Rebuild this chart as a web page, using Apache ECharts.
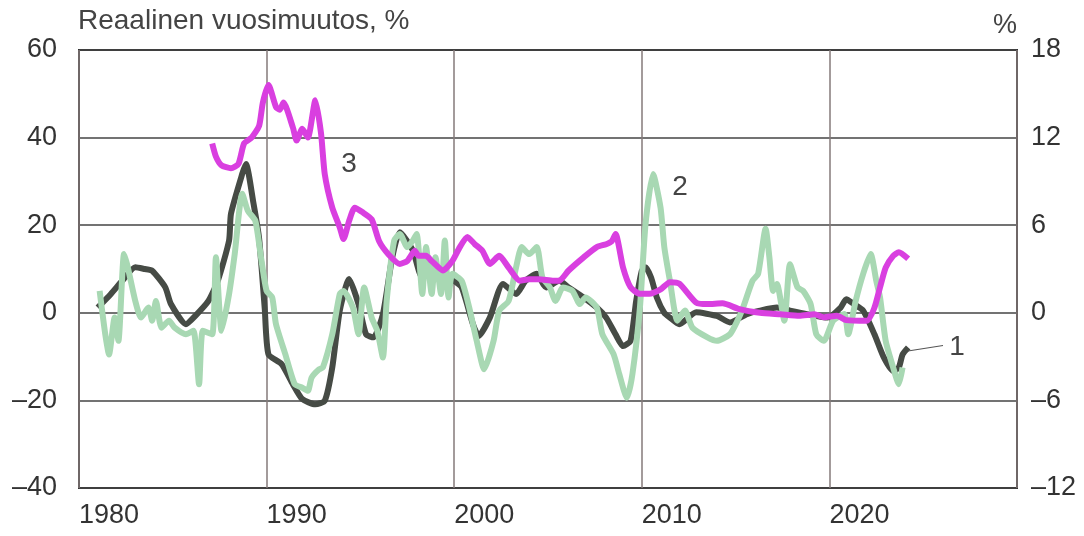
<!DOCTYPE html>
<html>
<head>
<meta charset="utf-8">
<script src="https://cdn.jsdelivr.net/npm/echarts@6/dist/echarts.min.js"></script>
<style>
html,body{margin:0;padding:0;background:#fff;}
#chart{width:1084px;height:536px;}
</style>
</head>
<body>
<div id="chart"></div>
<script>
// ---- Data ----
var xTicks = [1980, 1990, 2000, 2010, 2020];
var leftTicks = [-40, -20, 0, 20, 40, 60];
var rightTicks = [-12, -6, 0, 6, 12, 18];

// Series 1 (dark, left axis)
var s1Years = [1981.0,1981.7,1982.3,1983.0,1983.5,1983.9,1984.6,1984.9,1985.7,1986.2,1986.9,1987.4,1988.0,1988.1,1988.7,1988.9,1989.3,1989.6,1989.9,1990.1,1990.8,1991.4,1991.9,1992.6,1993.1,1993.5,1993.9,1994.4,1994.9,1995.3,1995.7,1996.2,1996.7,1997.1,1997.8,1998.3,1999.0,1999.7,2000.0,2000.4,2001.0,2001.3,2001.9,2002.6,2003.3,2003.8,2004.4,2004.9,2005.6,2006.1,2006.9,2007.6,2008.1,2008.6,2009.0,2009.4,2009.7,2010.0,2010.2,2010.5,2010.8,2011.2,2011.5,2012.0,2012.9,2014.0,2014.7,2015.6,2016.3,2017.2,2017.9,2018.8,2019.9,2020.6,2020.9,2021.3,2021.8,2022.4,2022.9,2023.4,2023.7,2023.9,2024.2];
var s1Values = [1.2,4.3,7.3,10.4,10,9.6,5.8,2,-2.6,-0.7,2.7,7.3,16.5,22.6,31.7,34,25,17,1,-9.5,-11.7,-16.3,-19.7,-20.9,-20.1,-12.5,0.5,7.7,2,-4.9,-5.6,-0.3,12.7,18.4,14.2,8.1,9.6,8.1,7.3,5.8,-2.6,-5.3,-1.1,6.6,4.3,7.3,8.9,5.8,7.3,5.8,3.5,1.2,-1.1,-4.9,-7.6,-6.4,2.7,9.6,10.4,8,3.5,0,-1.1,-2.6,0.1,-0.7,-2.2,-0.3,0.5,1.2,0.5,-0.3,-1.1,1.2,3.1,2,0.5,-4.9,-10.2,-13.3,-12.5,-9.5,-7.9];

// Series 2 (light green, left axis)
var s2Years = [1981.1,1981.4,1981.6,1981.9,1982.1,1982.4,1982.6,1983.0,1983.3,1983.7,1983.9,1984.1,1984.4,1984.8,1985.1,1985.7,1986.1,1986.4,1986.6,1987.1,1987.3,1987.6,1988.0,1988.3,1988.7,1989.0,1989.4,1989.7,1990.0,1990.3,1990.5,1991.0,1991.5,1991.9,1992.2,1992.4,1992.8,1993.0,1993.5,1993.9,1994.1,1994.6,1994.9,1995.2,1995.6,1995.9,1996.2,1996.4,1996.8,1997.1,1997.5,1997.8,1998.0,1998.3,1998.5,1998.8,1999.0,1999.3,1999.5,1999.7,1999.9,2000.4,2000.8,2001.2,2001.6,2002.1,2002.4,2002.9,2003.3,2003.6,2004.0,2004.4,2004.7,2005.1,2005.4,2005.8,2006.3,2006.7,2007.0,2007.6,2007.9,2008.5,2008.8,2009.2,2009.5,2009.9,2010.2,2010.6,2011.0,2011.2,2011.5,2011.9,2012.3,2012.7,2013.5,2014.0,2014.7,2015.1,2015.4,2015.9,2016.2,2016.6,2016.8,2017.0,2017.2,2017.6,2017.9,2018.3,2018.6,2019.0,2019.3,2019.7,2020.2,2020.8,2021.0,2021.4,2021.8,2022.2,2022.5,2022.7,2023.0,2023.4,2023.7,2023.9];
var s2Values = [5,-4.9,-9.5,-1.1,-6.4,13.4,10.4,2.7,-1.1,1.2,-1.8,2.7,-3.4,-1.8,-3.4,-4.9,-4.1,-16.3,-4.1,-4.9,12.7,-4.1,4.3,13.4,27.2,23.3,21,12.7,5,3.5,-2.6,-9.5,-16.3,-17.1,-17.8,-14.8,-12.9,-12.5,-4.9,4.3,5,1.2,-4.9,5.8,-1.1,-4.1,-10.2,2.7,16.5,18,15,16.5,18,4.3,15,4.3,12.7,4.3,16.5,3.5,8.9,7.3,1.2,-6.4,-12.9,-6.4,0.5,2.7,10.4,15,13.4,15,8.1,5.8,2.7,5.8,5,2,3.5,1.2,-4.9,-9.5,-14,-19.4,-14,1.2,20.3,31.7,24,15,7.3,-1.8,0.5,-3.4,-5.6,-6.4,-4.9,-1.8,1.2,7.3,8.9,19.2,12.7,5,6.6,-1.8,11.1,5.8,5,2,-4.9,-6.4,-1.8,-0.3,-4.9,2.7,8.9,13.4,7.3,3.5,-6.4,-12.5,-16.3,-12.5];

// Series 3 (magenta, right axis)
var s3Years = [1987.1,1987.3,1987.6,1988.1,1988.5,1988.8,1989.2,1989.6,1989.8,1990.1,1990.5,1990.7,1990.9,1991.4,1991.6,1991.9,1992.2,1992.6,1992.9,1993.1,1993.5,1993.9,1994.1,1994.4,1994.7,1995.1,1995.6,1996.0,1996.5,1997.1,1997.5,1997.9,1998.1,1998.5,1998.8,1999.4,1999.9,2000.3,2000.7,2001.1,2001.5,2001.9,2002.4,2002.9,2003.5,2004.0,2004.5,2005.3,2005.6,2006.1,2006.9,2007.6,2008.1,2008.4,2008.6,2009.0,2009.4,2009.9,2010.4,2011.0,2011.5,2012.0,2012.9,2013.5,2014.3,2015.2,2016.3,2017.4,2018.4,2019.2,2019.7,2020.4,2020.9,2022.0,2022.4,2022.7,2023.0,2023.4,2023.7,2024.2];
var s3Values = [11.6,10.7,10.1,9.9,10.2,11.6,12.0,12.8,14.4,15.6,14.1,13.9,14.4,12.7,11.8,12.6,12.0,14.55,12.3,9.5,7.2,5.85,5.05,6.3,7.2,6.9,6.4,4.9,4.0,3.35,3.55,4.25,3.9,3.9,3.55,2.9,3.55,4.5,5.2,4.7,4.25,3.35,3.9,3.1,2.2,2.3,2.3,2.2,2.2,2.9,3.8,4.5,4.7,4.9,5.4,3.1,1.75,1.3,1.3,1.6,2.1,2.0,0.7,0.6,0.65,0.25,0.0,-0.1,-0.2,-0.1,-0.3,-0.2,-0.5,-0.55,0.35,1.75,3.1,3.9,4.15,3.7];

var titleText = 'Reaalinen vuosimuutos, %';
var rightUnit = '%';
var seriesLabels = ['1', '2', '3'];

function pairs(xs, ys) { return xs.map(function (x, i) { return [x, ys[i]]; }); }
function dash(v) { return String(v).replace('-', '\u2013'); }

var FONT = "'Liberation Sans', Arial, sans-serif";
var TXT = '#333333';

var chart = echarts.init(document.getElementById('chart'), null, { renderer: 'canvas' });

chart.setOption({
  animation: false,
  backgroundColor: '#ffffff',
  grid: { left: 79, right: 67, top: 50, bottom: 48, show: true, borderColor: '#303030', borderWidth: 2, backgroundColor: 'transparent' },
  xAxis: {
    type: 'value', min: 1980, max: 2030, interval: 10,
    axisLine: { show: false }, axisTick: { show: false },
    splitLine: { show: true, lineStyle: { color: '#857a7a', width: 1.5 } },
    axisLabel: {
      margin: 14, align: 'left', color: TXT, fontSize: 27, fontFamily: FONT,
      formatter: function (v) { return xTicks.indexOf(v) >= 0 ? String(v) : ''; }
    }
  },
  yAxis: [
    {
      type: 'value', min: leftTicks[0], max: leftTicks[leftTicks.length - 1], interval: 20, position: 'left',
      axisLine: { show: false }, axisTick: { show: false },
      splitLine: { show: true, lineStyle: { color: '#454545', width: 1.5 } },
      axisLabel: { margin: 22, color: TXT, fontSize: 27, fontFamily: FONT, formatter: function (v) { return dash(v); } }
    },
    {
      type: 'value', min: rightTicks[0], max: rightTicks[rightTicks.length - 1], interval: 6, position: 'right',
      axisLine: { show: false }, axisTick: { show: false }, splitLine: { show: false },
      axisLabel: { margin: 14, color: TXT, fontSize: 27, fontFamily: FONT, formatter: function (v) { return dash(v); } }
    }
  ],
  series: [
    {
      name: seriesLabels[0], type: 'line', yAxisIndex: 0, data: pairs(s1Years, s1Values),
      showSymbol: false, smooth: 0.2, lineStyle: { color: '#464b45', width: 6 }, z: 2
    },
    {
      name: seriesLabels[1], type: 'line', yAxisIndex: 0, data: pairs(s2Years, s2Values),
      showSymbol: false, smooth: 0.2, lineStyle: { color: '#a8d8b3', width: 6 }, z: 3
    },
    {
      name: seriesLabels[2], type: 'line', yAxisIndex: 1, data: pairs(s3Years, s3Values),
      showSymbol: false, smooth: 0.2, lineStyle: { color: '#d93fe0', width: 6 }, z: 4
    }
  ],
  graphic: [
    { type: 'text', left: 78, top: 7, style: { text: titleText, font: '28px ' + FONT, fill: '#444' } },
    { type: 'text', right: 67, top: 12, style: { text: rightUnit, font: '27px ' + FONT, fill: '#444' } },
    { type: 'text', x: 349, y: 164, style: { text: seriesLabels[2], font: '28px ' + FONT, fill: '#444', align: 'center', verticalAlign: 'middle' }, z: 10 },
    { type: 'text', x: 680, y: 187, style: { text: seriesLabels[1], font: '28px ' + FONT, fill: '#444', align: 'center', verticalAlign: 'middle' }, z: 10 },
    { type: 'text', x: 957, y: 347, style: { text: seriesLabels[0], font: '28px ' + FONT, fill: '#444', align: 'center', verticalAlign: 'middle' }, z: 10 },
    { type: 'line', shape: { x1: 908, y1: 351, x2: 943, y2: 345.5 }, style: { stroke: '#555', lineWidth: 1.2 }, z: 10 }
  ]
});
</script>
</body>
</html>
